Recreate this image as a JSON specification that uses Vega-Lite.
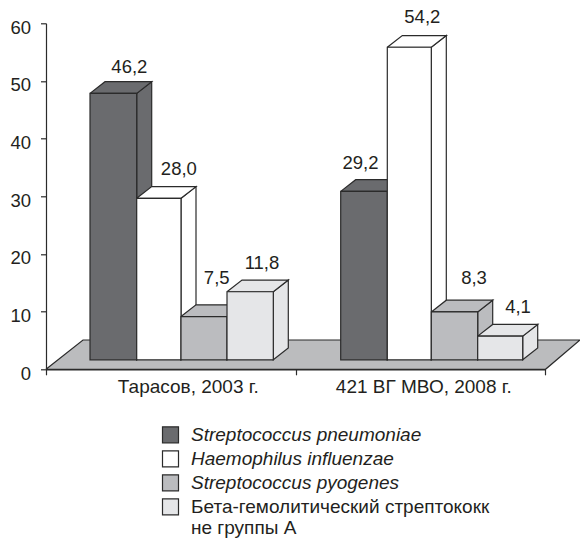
{
"$schema":"https://vega.github.io/schema/vega-lite/v6.json",
"width":499,"height":346,
"autosize":"none",
"padding":{"left":46,"top":23.3,"right":35,"bottom":171.7},
"background":"white",
"config":{"view":{"stroke":null},"font":"Liberation Sans"},
"data":{"values":[
{"study":"Тарасов, 2003 г.","species":"Streptococcus pneumoniae","value":46.2},
{"study":"Тарасов, 2003 г.","species":"Haemophilus influenzae","value":28.0},
{"study":"Тарасов, 2003 г.","species":"Streptococcus pyogenes","value":7.5},
{"study":"Тарасов, 2003 г.","species":"Бета-гемолитический стрептококк не группы А","value":11.8},
{"study":"421 ВГ МВО, 2008 г.","species":"Streptococcus pneumoniae","value":29.2},
{"study":"421 ВГ МВО, 2008 г.","species":"Haemophilus influenzae","value":54.2},
{"study":"421 ВГ МВО, 2008 г.","species":"Streptococcus pyogenes","value":8.3},
{"study":"421 ВГ МВО, 2008 г.","species":"Бета-гемолитический стрептококк не группы А","value":4.1}
]},
"transform":[
{"calculate":"(datum.study=='Тарасов, 2003 г.'?0:4)+indexof(['Streptococcus pneumoniae','Haemophilus influenzae','Streptococcus pyogenes','Бета-гемолитический стрептококк не группы А'],datum.species)","as":"i"},
{"calculate":"[44,90.7,135,181,294.7,341.3,385.3,431.7][datum.i]","as":"x0"},
{"calculate":"[90.7,135,181,227.3,341.3,385.3,431.7,476.7][datum.i]","as":"x1"},
{"calculate":"1.65","as":"base"},
{"calculate":"datum.base+datum.value","as":"top"}
],
"resolve":{"scale":{"x":"independent"},"axis":{"x":"independent","y":"independent"},"legend":{"fill":"independent"}},
"layer":[
{"data":{"values":[{"part":"floor"}]},
 "transform":[
  {"calculate":"[0,37,534,499.5,0]","as":"fx"},
  {"calculate":"[0,5.08,5.08,0,0]","as":"fy"},
  {"calculate":"[0,1,2,3,4]","as":"k"},
  {"flatten":["fx","fy","k"]}],
 "mark":{"type":"line","fill":"#bbbcbe","stroke":"#2b2b2b","strokeWidth":1.2},
 "encoding":{
  "x":{"field":"fx","type":"quantitative","scale":{"domain":[0,499]},"axis":null},
  "y":{"field":"fy","type":"quantitative","scale":{"domain":[0,60]},"axis":null},
  "order":{"field":"k"}}},
{"mark":{"type":"bar","opacity":0},
 "encoding":{
  "x":{"field":"study","type":"nominal","sort":["Тарасов, 2003 г.","421 ВГ МВО, 2008 г."],
   "scale":{"paddingInner":0,"paddingOuter":0},
   "axis":{"title":null,"labelAngle":0,"tickBand":"extent","tickSize":5.5,"tickColor":"#2b2b2b","tickWidth":1.2,"domainColor":"#2b2b2b","domainWidth":1.2,"labelFontSize":19,"labelColor":"#231f20","labelPadding":3,"labelFont":"Liberation Sans",
    "labelOffset":{"condition":{"test":"datum.value=='Тарасов, 2003 г.'","value":17},"value":3}}}}},
{"transform":[
  {"calculate":"[datum.x1,datum.x1+15,datum.x1+15,datum.x1,datum.x1]","as":"px"},
  {"calculate":"[datum.top,datum.top+2.03,datum.base+2.03,datum.base,datum.top]","as":"py"},
  {"calculate":"[0,1,2,3,4]","as":"k"},
  {"flatten":["px","py","k"]}],
 "mark":{"type":"line","stroke":"#2b2b2b","strokeWidth":1.2},
 "encoding":{
  "x":{"field":"px","type":"quantitative","scale":{"domain":[0,499]},"axis":null},
  "y":{"field":"py","type":"quantitative","scale":{"domain":[0,60]},"axis":null},
  "fill":{"field":"species","type":"nominal","legend":null,"scale":{"domain":["Streptococcus pneumoniae","Haemophilus influenzae","Streptococcus pyogenes","Бета-гемолитический стрептококк не группы А"],"range":["#6a6b6e","#ffffff","#bbbcbf","#e5e6e8"]}},
  "detail":{"field":"i"},
  "order":{"field":"k"}}},
{"transform":[
  {"calculate":"[datum.x0,datum.x0+15,datum.x1+15,datum.x1,datum.x0]","as":"px"},
  {"calculate":"[datum.top,datum.top+2.03,datum.top+2.03,datum.top,datum.top]","as":"py"},
  {"calculate":"[0,1,2,3,4]","as":"k"},
  {"flatten":["px","py","k"]}],
 "mark":{"type":"line","stroke":"#2b2b2b","strokeWidth":1.2},
 "encoding":{
  "x":{"field":"px","type":"quantitative","scale":{"domain":[0,499]},"axis":null},
  "y":{"field":"py","type":"quantitative","scale":{"domain":[0,60]},"axis":null},
  "fill":{"field":"species","type":"nominal","legend":null,"scale":{"domain":["Streptococcus pneumoniae","Haemophilus influenzae","Streptococcus pyogenes","Бета-гемолитический стрептококк не группы А"],"range":["#6a6b6e","#ffffff","#bbbcbf","#e5e6e8"]}},
  "detail":{"field":"i"},
  "order":{"field":"k"}}},
{"mark":{"type":"rect","stroke":"#2b2b2b","strokeWidth":1.2},
 "encoding":{
  "x":{"field":"x0","type":"quantitative","scale":{"domain":[0,499]},"axis":null},
  "x2":{"field":"x1"},
  "y":{"field":"base","type":"quantitative","scale":{"domain":[0,60]},
   "axis":{"title":null,"values":[0,10,20,30,40,50,60],"grid":false,"tickSize":5.5,"tickColor":"#2b2b2b","tickWidth":1.2,"domainColor":"#2b2b2b","domainWidth":1.2,"labelFontSize":18.5,"labelColor":"#231f20","labelPadding":10,"labelOffset":4,"labelFont":"Liberation Sans"}},
  "y2":{"field":"top"},
  "fill":{"field":"species","type":"nominal",
   "scale":{"domain":["Streptococcus pneumoniae","Haemophilus influenzae","Streptococcus pyogenes","Бета-гемолитический стрептококк не группы А"],"range":["#6a6b6e","#ffffff","#bbbcbf","#e5e6e8"]},
   "legend":{"title":null,"orient":"none","legendX":115,"legendY":402,"symbolType":"square","symbolSize":256,"symbolStrokeColor":"#2b2b2b","symbolStrokeWidth":1.2,"symbolOpacity":1,"labelFontSize":19,"labelColor":"#231f20","labelFont":"Liberation Sans","labelLimit":400,"rowPadding":3,"labelOffset":11,
    "labelFontStyle":{"expr":"indexof(datum.label,'Бета')==0?'normal':'italic'"},
    "labelExpr":"datum.label=='Бета-гемолитический стрептококк не группы А'?['Бета-гемолитический стрептококк','не группы А']:datum.label"}}}},
{"transform":[
  {"calculate":"(datum.x0+datum.x1)/2+[16,20,12.7,11.8,-3.5,13,19.5,17.8][datum.i]","as":"tx"},
  {"calculate":"datum.top+[26.7,29.3,38.3,28.3,28.7,30.3,34.3,28.7][datum.i]/5.767","as":"ty"},
  {"calculate":"replace(format(datum.value,'.1f'),'.',',')","as":"txt"}],
 "mark":{"type":"text","fontSize":18.5,"color":"#231f20","align":"center","baseline":"middle","font":"Liberation Sans"},
 "encoding":{
  "x":{"field":"tx","type":"quantitative","scale":{"domain":[0,499]},"axis":null},
  "y":{"field":"ty","type":"quantitative","scale":{"domain":[0,60]},"axis":null},
  "text":{"field":"txt"}}}
]}
